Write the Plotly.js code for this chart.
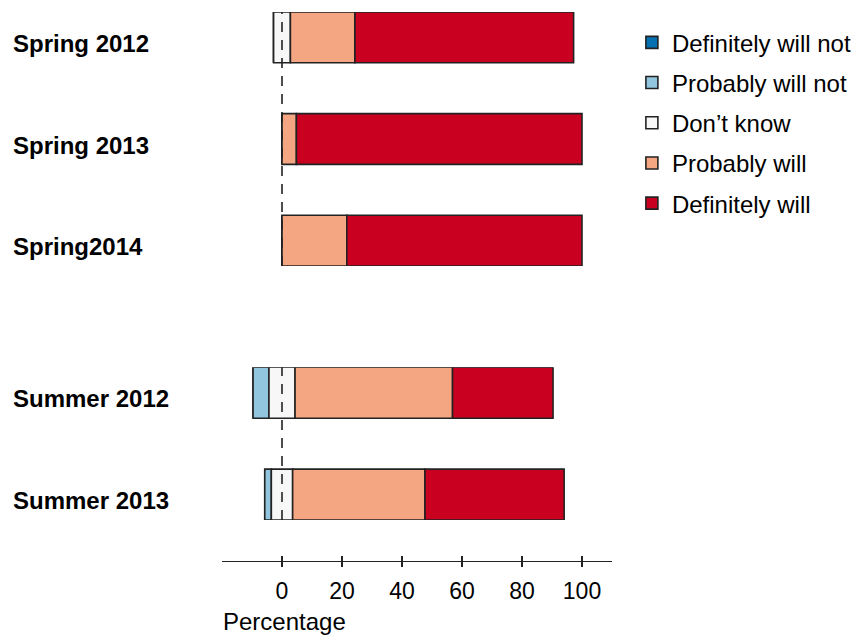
<!DOCTYPE html>
<html>
<head>
<meta charset="utf-8">
<script src="https://cdn.plot.ly/plotly-3.0.1.min.js"></script>
<style>html,body{margin:0;padding:0;background:#fff;}#chart{width:856px;height:638px;}</style>
</head>
<body>
<div id="chart"></div>
<script>
// ---- data ----
const responses = ["Definitely will not", "Probably will not", "Don\u2019t know", "Probably will", "Definitely will"];
const colors = ["#0571B0", "#92C5DE", "#F7F7F7", "#F4A582", "#CA0020"];

const springCats = ["Spring 2012", "Spring 2013", "Spring2014"];
const springDefNot = [0, 0, 0];
const springProbNot = [0, 0, 0];
const springDontKnow = [5.6, 0, 0];
const springProbWill = [21.5, 4.8, 21.6];
const springDefWill = [72.9, 95.2, 78.4];

const summerCats = ["Summer 2012", "Summer 2013"];
const summerDefNot = [0, 0];
const summerProbNot = [5.3, 2.2];
const summerDontKnow = [8.7, 7.1];
const summerProbWill = [52.5, 44.1];
const summerDefWill = [33.5, 46.4];

const xTicks = [0, 20, 40, 60, 80, 100];

// ---- build diverging stacked bars ----
function panelTraces(cats, dn, pn, dk, pw, dw, yaxis, showLeg) {
  const half = dk.map(v => v / 2);
  const series = [dn, pn, dk, pw, dw];
  const bases = [
    dk.map((v, i) => -half[i] - pn[i] - dn[i]),
    dk.map((v, i) => -half[i] - pn[i]),
    half.map(v => -v),
    half.slice(),
    half.map((v, i) => v + pw[i])
  ];
  return series.map((vals, k) => ({
    type: "bar",
    orientation: "h",
    y: cats,
    x: vals,
    base: bases[k],
    width: 0.5,
    yaxis: yaxis,
    xaxis: "x",
    name: responses[k],
    legendgroup: "g" + k,
    showlegend: showLeg,
    marker: { color: colors[k], line: { color: "#222222", width: 1.6 } },
    hoverinfo: "x+y+name"
  }));
}

const traces = []
  .concat(panelTraces(springCats, springDefNot, springProbNot, springDontKnow, springProbWill, springDefWill, "y2", true))
  .concat(panelTraces(summerCats, summerDefNot, summerProbNot, summerDontKnow, summerProbWill, summerDefWill, "y", false));

// x-axis ticks crossing the line: overlay an inside-tick axis
traces.push({ type: "scatter", x: [], y: [], xaxis: "x2", yaxis: "y", showlegend: false, hoverinfo: "skip" });

const labelFont = { family: "Liberation Sans, Arial, sans-serif", size: 24, color: "#000", weight: "bold" };
const annotations = [];
springCats.forEach(c => annotations.push({
  text: c, xref: "paper", x: -0.541, xanchor: "left", yref: "y2", y: c, yanchor: "middle",
  showarrow: false, font: labelFont, yshift: -6
}));
summerCats.forEach(c => annotations.push({
  text: c, xref: "paper", x: -0.541, xanchor: "left", yref: "y", y: c, yanchor: "middle",
  showarrow: false, font: labelFont, yshift: -6
}));
annotations.push({
  text: "Percentage", xref: "paper", x: -0.003, xanchor: "left", yref: "paper", y: -0.082, yanchor: "top",
  showarrow: false, font: { family: "Liberation Sans, Arial, sans-serif", size: 24, color: "#000" }
});

const axisFont = { family: "Liberation Sans, Arial, sans-serif", size: 23, color: "#000" };

const layout = {
  width: 856, height: 638,
  margin: { l: 222, r: 244, t: 12, b: 77, autoexpand: false },
  paper_bgcolor: "#fff", plot_bgcolor: "#fff",
  barmode: "overlay",
  showlegend: true,
  legend: {
    x: 1.051, xanchor: "left", y: 0.985, yanchor: "top",
    traceorder: "grouped", tracegroupgap: 6,
    font: { family: "Liberation Sans, Arial, sans-serif", size: 24, color: "#000" },
    bgcolor: "rgba(0,0,0,0)"
  },
  xaxis: {
    range: [-20, 110], anchor: "free", position: 0,
    tickvals: xTicks, ticktext: xTicks.map(String),
    ticks: "outside", ticklen: 5, tickwidth: 1.2, tickcolor: "#222",
    showline: true, linecolor: "#222", linewidth: 1.2,
    showgrid: false, zeroline: false,
    tickfont: axisFont, ticklabelstandoff: 4
  },
  xaxis2: {
    range: [-20, 110], overlaying: "x", anchor: "free", position: 0,
    tickvals: xTicks, showticklabels: false,
    ticks: "inside", ticklen: 5, tickwidth: 1.2, tickcolor: "#222",
    showline: false, showgrid: false, zeroline: false
  },
  yaxis: {
    domain: [0.0747, 0.3528], type: "category", range: [1.25, -0.25],
    showticklabels: false, ticks: "", showgrid: false, zeroline: false, showline: false
  },
  yaxis2: {
    domain: [0.5373, 1], type: "category", range: [2.25, -0.25],
    showticklabels: false, ticks: "", showgrid: false, zeroline: false, showline: false
  },
  shapes: [
    { type: "line", xref: "x", x0: 0, x1: 0, yref: "y2 domain", y0: 0, y1: 1, layer: "above",
      line: { color: "#222222", width: 1.6, dash: "10px,8px" } },
    { type: "line", xref: "x", x0: 0, x1: 0, yref: "y domain", y0: 0, y1: 1, layer: "above",
      line: { color: "#222222", width: 1.6, dash: "10px,8px" } }
  ],
  annotations: annotations
};

Plotly.newPlot("chart", traces, layout, { displayModeBar: false, staticPlot: true });
</script>
</body>
</html>
